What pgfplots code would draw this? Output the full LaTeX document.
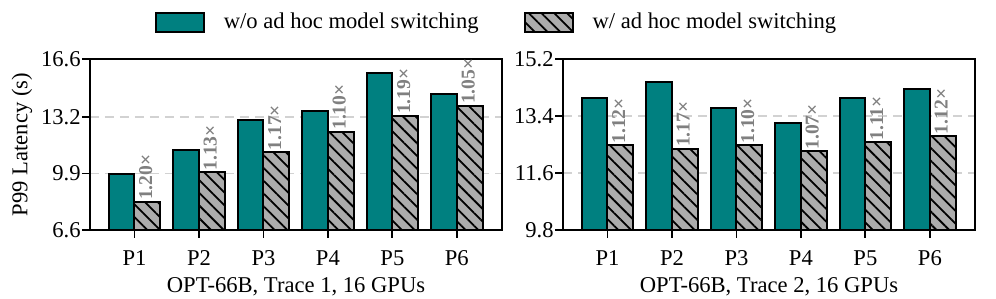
\documentclass[border=0pt]{standalone}
\usepackage{pgfplots}
\pgfplotsset{compat=1.18}
\usepackage{pgfplotstable}
\usepackage{fontspec}
\setmainfont{Liberation Serif}
\usetikzlibrary{patterns.meta}
\definecolor{tealbar}{RGB}{0,128,128}
\definecolor{hatchgray}{RGB}{172,172,172}
\definecolor{labgray}{RGB}{128,128,128}
\definecolor{gridgray}{RGB}{210,210,210}

\pgfplotstableread{
x a b lab
0 9.90 8.25 1.20
1 11.26 9.97 1.13
2 13.03 11.15 1.17
3 13.56 12.36 1.10
4 15.81 13.28 1.19
5 14.58 13.87 1.05
}\tableA
\pgfplotstableread{
x a b lab
0 13.97 12.47 1.12
1 14.47 12.37 1.17
2 13.66 12.47 1.10
3 13.18 12.28 1.07
4 13.97 12.57 1.11
5 14.26 12.77 1.12
}\tableB

\pgfplotsset{
  mybars/.style={
    scale only axis,
    width=206pt, height=85.5pt,
    ybar=0pt, bar width=0.4,
    xmin=-0.69, xmax=5.7,
    xtick={0,1,2,3,4,5},
    xticklabels={P1,P2,P3,P4,P5,P6},
    tick pos=left,
    tick align=outside,
    major tick length=4pt,
    every tick/.style={black, line width=0.9pt},
    axis line style={line width=1pt},
    ymajorgrids,
    grid style={gridgray, dash pattern=on 4.5pt off 3pt, line width=0.8pt},
    /pgf/number format/assume math mode=true,
    /pgf/number format/fixed,
    /pgf/number format/fixed zerofill,
    /pgf/number format/precision=1,
    xticklabel style={inner sep=0pt, anchor=north, yshift=-6pt},
    yticklabel style={inner sep=0pt, anchor=east, xshift=-0.5pt},
    x label style={at={(axis description cs:0.5,0)}, anchor=base, yshift=-31.5pt},
    clip=false,
    legend image code/.code={\draw[#1, line width=1pt] (0pt,-4.75pt) rectangle (24pt,4.75pt);},
  },
  tealplot/.style={fill=tealbar, draw=black, line width=1pt, bar shift=-0.2},
  hatchplot/.style={fill=hatchgray, draw=black, line width=1pt, bar shift=0.2,
    postaction={pattern={Lines[angle=-45, distance=4.5pt, line width=0.9pt]}, pattern color=black},
    nodes near coords={\pgfplotspointmeta×},
    point meta=explicit symbolic,
    every node near coord/.append style={xshift=-0.8pt, rotate=90, anchor=west, inner sep=0.4pt,
      text=labgray, font=\fontsize{9.8}{11}\selectfont\bfseries}},
}

\begin{document}
\fontsize{11.3pt}{13.6pt}\selectfont
\begin{tikzpicture}
\useasboundingbox (-45pt,-34.5pt) rectangle (453pt,115pt);
\begin{axis}[mybars,
  ymin=6.6, ymax=16.6, ytick={6.6,9.9,13.2,16.6},
  ylabel={P99 Latency (s)},
  ylabel style={at={(axis description cs:-0.165,0.5)}, anchor=center},
  xlabel={OPT-66B, Trace 1, 16 GPUs},
  legend style={draw=none, fill=none, at={(rel axis cs:0.989,1.213)}, anchor=center,
    legend columns=2, font=\fontsize{11.3pt}{13.6pt}\selectfont,
    /tikz/every odd column/.append style={column sep=7.5pt},
    /tikz/every even column/.append style={column sep=20.5pt}},
]
\addplot[tealplot] table[x=x, y=a] {\tableA};
\addplot[hatchplot] table[x=x, y=b, meta=lab] {\tableA};
\legend{w/o ad hoc model switching, w/ ad hoc model switching}
\end{axis}
\begin{axis}[mybars, at={(236.5pt,0pt)},
  ymin=9.8, ymax=15.2, ytick={9.8,11.6,13.4,15.2},
  xlabel={OPT-66B, Trace 2, 16 GPUs},
]
\addplot[tealplot] table[x=x, y=a] {\tableB};
\addplot[hatchplot] table[x=x, y=b, meta=lab] {\tableB};
\end{axis}
\end{tikzpicture}
\end{document}
